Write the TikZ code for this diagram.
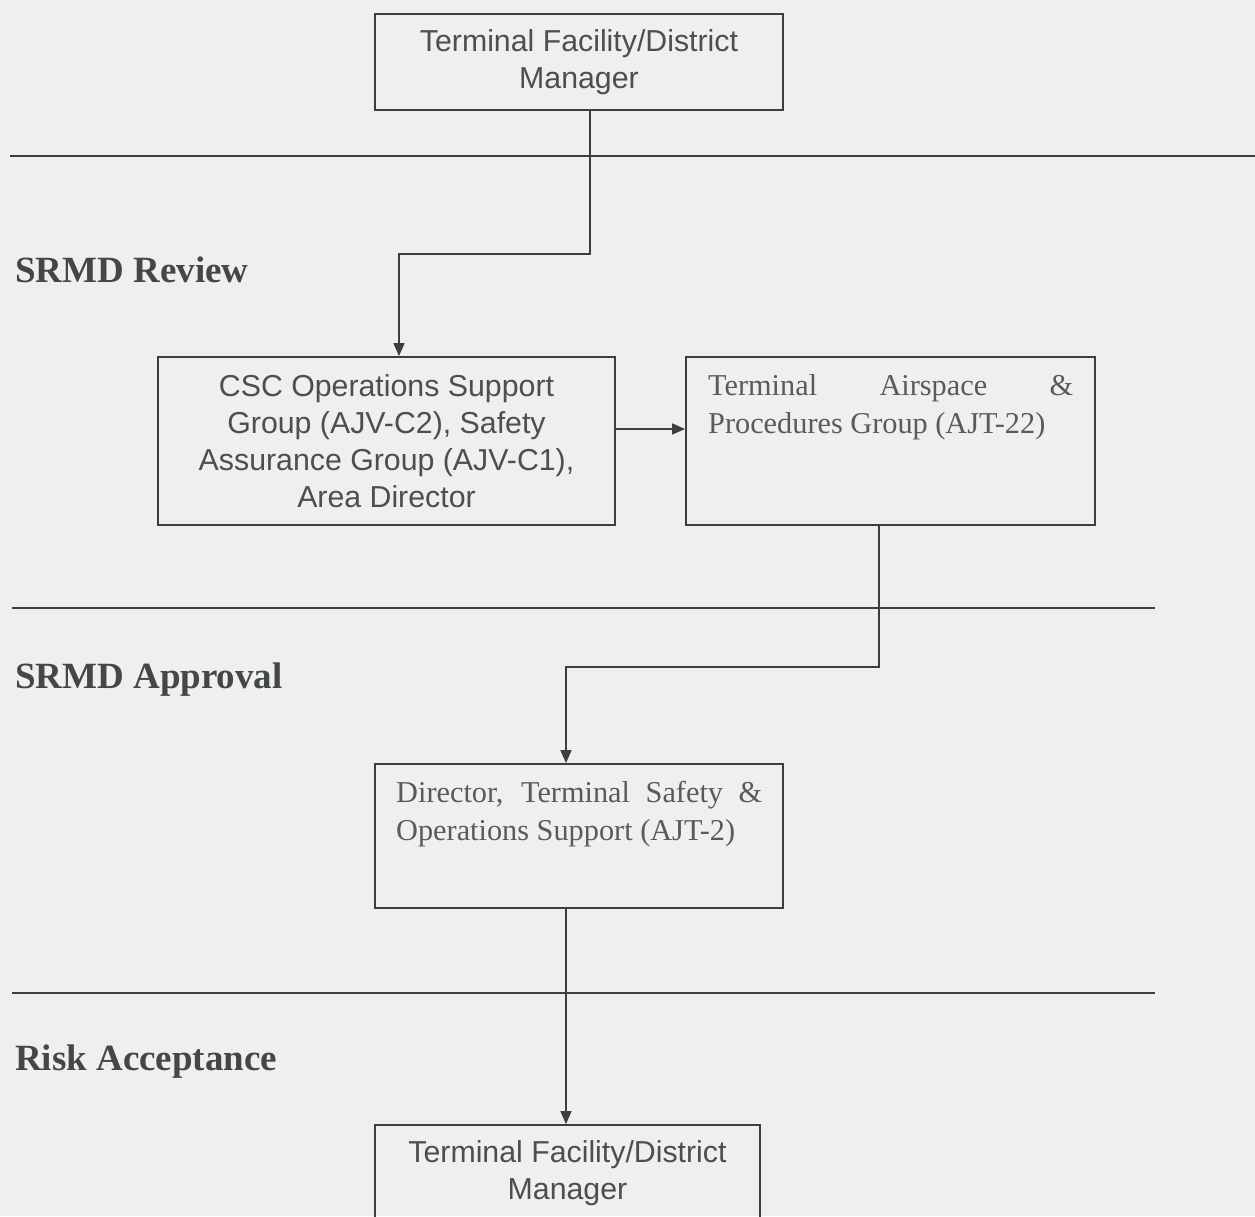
\documentclass[tikz,border=0pt]{standalone}
\usepackage{fontspec}
\setmainfont{Liberation Serif}
\setsansfont{Liberation Sans}
\usetikzlibrary{arrows.meta}
\definecolor{bg}{HTML}{EFEFEF}
\definecolor{inks}{HTML}{4E4E4E}
\definecolor{inkr}{HTML}{5A5A5A}
\definecolor{inkb}{HTML}{434844}
\definecolor{linec}{HTML}{3E3E3E}
\begin{document}
\begin{tikzpicture}[x=1pt,y=-1pt,
  box/.style={draw=linec,line width=1.8pt,rectangle,inner sep=0pt,align=center,
    text=inks,font=\sffamily\fontsize{30.3}{37}\selectfont},
  rtext/.style={anchor=base west,inner sep=0pt,text=inkr,font=\rmfamily\fontsize{30.3}{38}\selectfont},
  lab/.style={anchor=base west,inner sep=0pt,text=inkb,font=\rmfamily\bfseries\fontsize{37}{44}\selectfont},
  conn/.style={draw=linec,line width=1.5pt},
  arr/.style={conn,-{Triangle[length=13pt,width=11pt]}},
  sep/.style={draw=linec,line width=1.5pt}]
\useasboundingbox (0,0) rectangle (1255,1216);
\fill[bg] (0,0) rectangle (1255,1216);

% separators
\draw[sep,line width=2.8pt] (10,156) -- (1255,156);
\draw[sep] (12,608) -- (1155,608);
\draw[sep] (12,993) -- (1155,993);

% section labels
\node[lab] (l1) at (15,282) {SRMD Review};
\node[lab] (l2) at (15,688) {SRMD Approval};
\node[lab] (l3) at (15,1070) {Risk Acceptance};

% boxes
\node[box,minimum width=408pt,minimum height=96pt] (top) at (579,62)
  {Terminal Facility/District\\Manager};
\node[box,minimum width=457pt,minimum height=168pt] (csc) at (386.5,441)
  {CSC Operations Support\\Group (AJV-C2), Safety\\Assurance Group (AJV-C1),\\Area Director};
\node[box,minimum width=409pt,minimum height=168pt] (tap) at (890.5,441) {};
\node[rtext] (tap1) at (708,395) {\makebox[365pt][s]{Terminal Airspace \&}};
\node[rtext] (tap2) at (708,433) {Procedures Group (AJT-22)};
\node[box,minimum width=408pt,minimum height=144pt] (dir) at (579,836) {};
\node[rtext] (dir1) at (396,802) {\makebox[366pt][s]{Director, Terminal Safety \&}};
\node[rtext] (dir2) at (396,840) {Operations Support (AJT-2)};
\node[box,minimum width=385pt,minimum height=96pt] (fin) at (567.5,1173)
  {Terminal Facility/District\\Manager};

% connectors
\coordinate (j1) at (590,254);
\coordinate (j2) at (399,254);
\coordinate (a1) at (650,429);
\coordinate (j3) at (879,667);
\coordinate (j4) at (566,667);
\draw[arr] (top.south -| j1) -- (j1) -- (j2) -- (csc.north -| j2);
\draw[arr] (csc.east |- a1) -- (tap.west |- a1);
\draw[arr] (tap.south -| j3) -- (j3) -- (j4) -- (dir.north -| j4);
\draw[arr] (dir.south -| j4) -- (fin.north -| j4);
\end{tikzpicture}
\end{document}
